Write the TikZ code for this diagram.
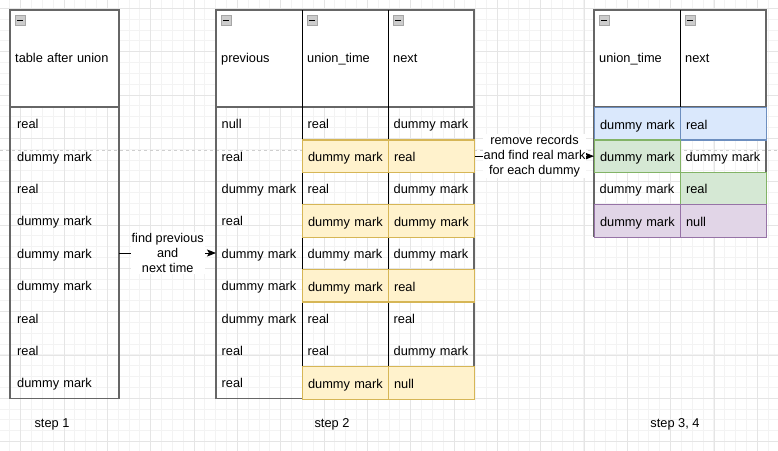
\documentclass[tikz,border=0pt]{standalone}
\usepackage{fontspec}
\setmainfont{Liberation Sans}
\usepackage{tikz}
\usetikzlibrary{arrows.meta}

\definecolor{gridminor}{HTML}{F3F3F3}
\definecolor{gridmajor}{HTML}{E5E5E5}
\definecolor{breakgray}{HTML}{CFCFCF}
\definecolor{framegray}{HTML}{666666}
\definecolor{yelfill}{HTML}{FFF2CC}
\definecolor{yelline}{HTML}{D6B656}
\definecolor{bluefill}{HTML}{DAE8FC}
\definecolor{blueline}{HTML}{6C8EBF}
\definecolor{greenfill}{HTML}{D5E8D4}
\definecolor{greenline}{HTML}{82B366}
\definecolor{purplefill}{HTML}{E1D5E7}
\definecolor{purpleline}{HTML}{9673A6}

\begin{document}
\begin{tikzpicture}[x=1pt,y=-1pt,
  >={Stealth[length=9pt,width=7pt,inset=2pt]},
  every node/.style={font=\fontsize{12.8}{15}\selectfont},
  head/.style={anchor=north west,minimum height=97pt,inner ysep=0pt,inner xsep=5pt,align=left,fill=white,text height=10pt,text depth=1.5pt},
  headA/.style={head,minimum width=109pt,text width=99pt},
  headB/.style={head,minimum width=86pt,text width=76pt},
  cell/.style={anchor=north west,minimum height=32.4pt,inner ysep=0pt,align=left,text height=11pt,text depth=0.5pt},
  cellA/.style={cell,minimum width=109pt,inner xsep=7pt,text width=95pt},
  cellB/.style={cell,minimum width=86pt,inner xsep=5.5pt,text width=75pt},
  plaincell/.style={},
  yelcell/.style={fill=yelfill,draw=yelline,line width=1.1pt},
  bluecell/.style={fill=bluefill,draw=blueline,line width=1.1pt},
  greencell/.style={fill=greenfill,draw=greenline,line width=1.1pt},
  purplecell/.style={fill=purplefill,draw=purpleline,line width=1.1pt},
  tblframe/.style={draw=framegray,line width=1.7pt},
  colline/.style={draw=black,line width=0.9pt},
  iconbox/.style={fill=gray!40,draw=gray!70,line width=0.8pt},
  arrowlabel/.style={fill=white,align=center,inner sep=1pt,font=\fontsize{12.7}{15}\selectfont},
  steplabel/.style={inner sep=1pt}]

\useasboundingbox (0,0) rectangle (778,450);
\clip (0,0) rectangle (778,450);

% background grid
\begin{scope}[shift={(9.87,8.3)}]
  \draw[gridminor,line width=0.8pt,step=10.83pt] (-20,-20) grid (800,460);
\end{scope}
\begin{scope}[shift={(20.7,8.3)}]
  \draw[gridmajor,line width=0.8pt,step=43.33pt] (-50,-20) grid (800,460);
\end{scope}

% page break
\draw[breakgray,line width=1pt,dash pattern=on 3pt off 3pt] (0,150) -- (778,150);

% headers
\node[headA] (u0) at (10,10) {table after union};
\node[headB] (p0) at (216,10) {previous};
\node[headB] (t0) at (302,10) {union\_time};
\node[headB] (n0) at (388,10) {next};
\node[headB] (rt0) at (594,10) {union\_time};
\node[headB] (rn0) at (680,10) {next};

% table frames
\draw[tblframe] (10,10) rectangle (119,398.6);
\draw[tblframe] (10,107) -- (119,107);
\draw[tblframe] (216,10) rectangle (474,398.6);
\draw[tblframe] (216,107) -- (474,107);
\draw[colline] (302,10) -- (302,398.6);
\draw[colline] (388,10) -- (388,398.6);
\draw[tblframe] (594,10) rectangle (766,236.6);
\draw[tblframe] (594,107) -- (766,107);
\draw[colline] (680,10) -- (680,236.6);

% step 1
\foreach \i/\v in {1/real,2/dummy mark,3/real,4/dummy mark,5/dummy mark,
                   6/dummy mark,7/real,8/real,9/dummy mark} {
  \pgfmathsetmacro\ry{107+32.4*(\i-1)}
  \node[cellA] (u\i) at (10,\ry) {\v};
}

% step 2
\foreach \i/\pv/\ut/\nx/\hl in {1/null/real/dummy mark/plaincell,
    2/real/dummy mark/real/yelcell,
    3/dummy mark/real/dummy mark/plaincell,
    4/real/dummy mark/dummy mark/yelcell,
    5/dummy mark/dummy mark/dummy mark/plaincell,
    6/dummy mark/dummy mark/real/yelcell,
    7/dummy mark/real/real/plaincell,
    8/real/real/dummy mark/plaincell,
    9/real/dummy mark/null/yelcell} {
  \pgfmathsetmacro\ry{107+32.4*(\i-1)}
  \node[cellB] (p\i) at (216,\ry) {\pv};
  \node[cellB,\hl] (t\i) at (302,\ry) {\ut};
  \node[cellB,\hl] (n\i) at (388,\ry) {\nx};
}

% step 3, 4
\foreach \i/\ut/\nx/\sa/\sb in {1/dummy mark/real/bluecell/bluecell,
    2/dummy mark/dummy mark/greencell/plaincell,
    3/dummy mark/real/plaincell/greencell,
    4/dummy mark/null/purplecell/purplecell} {
  \pgfmathsetmacro\ry{107+32.4*(\i-1)}
  \node[cellB,\sa] (rt\i) at (594,\ry) {\ut};
  \node[cellB,\sb] (rn\i) at (680,\ry) {\nx};
}

% collapse icons
\foreach \ix in {15,221,307,393,599,685} {
  \draw[iconbox] (\ix,15.3) rectangle ++(10.2,10.2);
  \draw[black,line width=1.5pt] (\ix+2.4,20.4) -- (\ix+7.8,20.4);
}

% arrows
\draw[black,line width=0.9pt,->] (u5.east) -- (p5.west)
  node[arrowlabel,midway] (a1) {find previous\\and\\next time};
\draw[black,line width=0.9pt,->] (n2.east) -- (rt2.west)
  node[arrowlabel,midway] (a2) {remove records\\and find real mark\\for each dummy};

% captions
\node[steplabel] (s1) at (52,424) {step 1};
\node[steplabel] (s2) at (332,424) {step 2};
\node[steplabel] (s3) at (675,424) {step 3, 4};

\end{tikzpicture}
\end{document}
